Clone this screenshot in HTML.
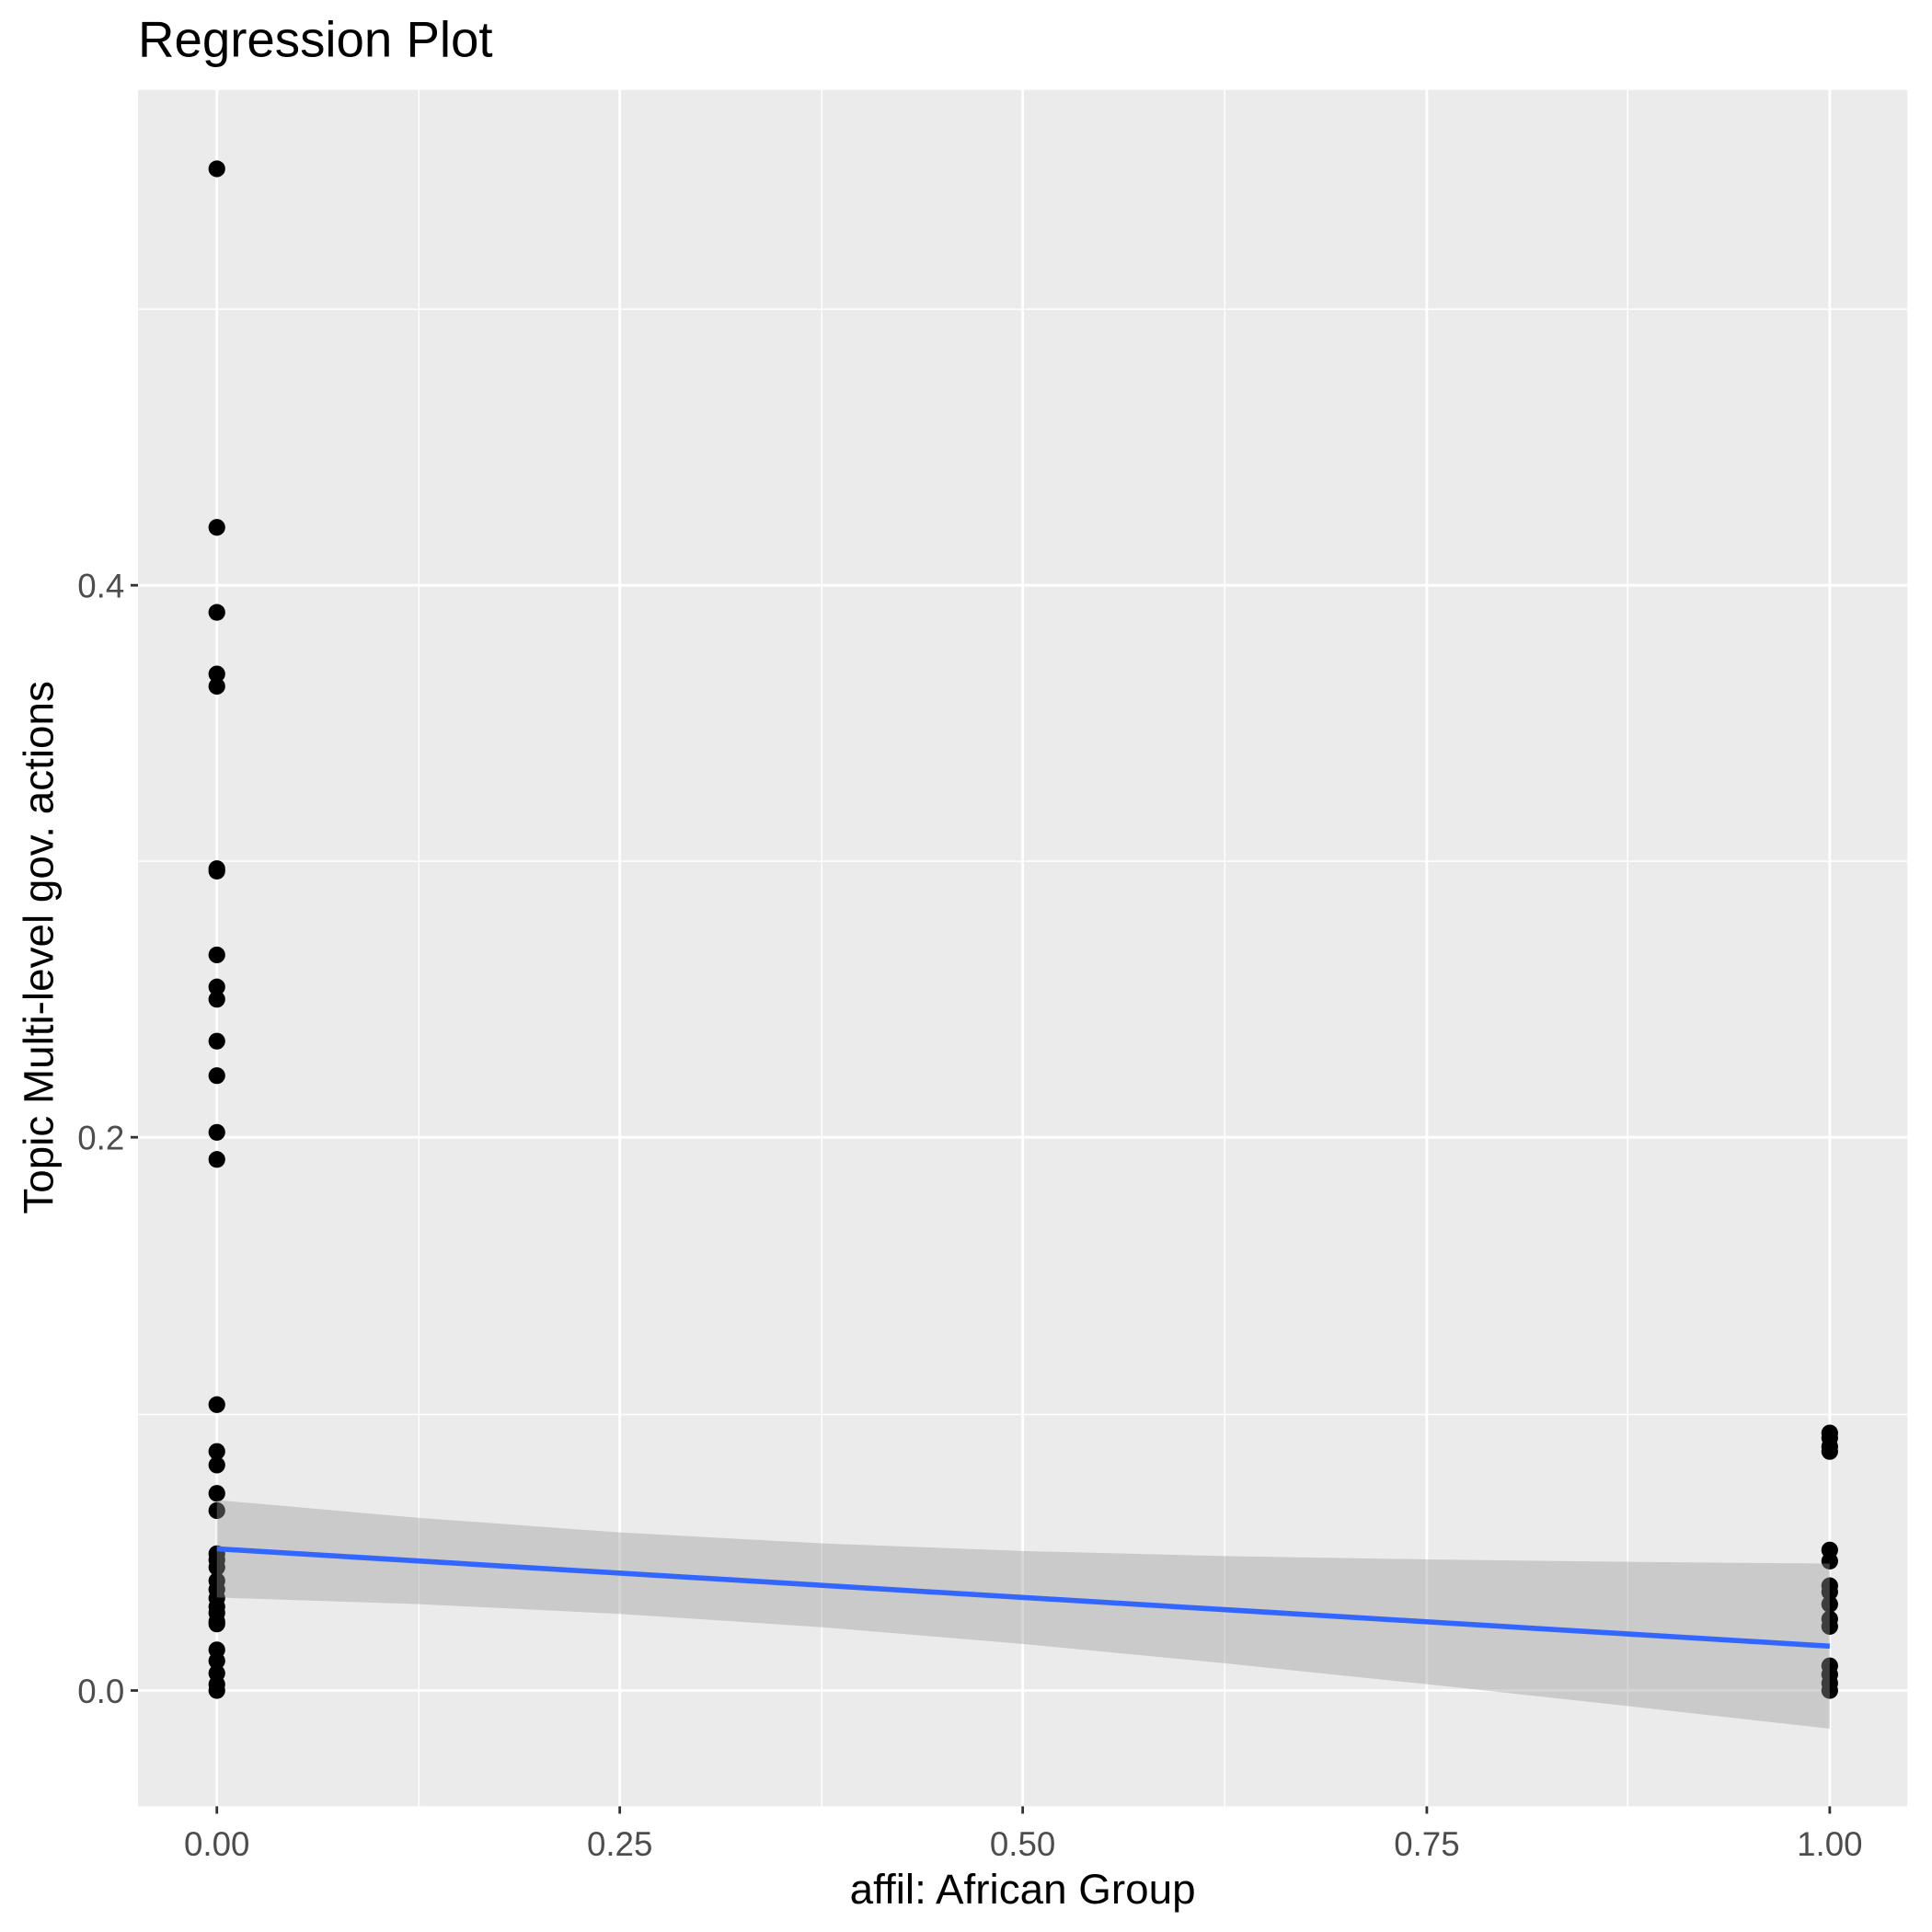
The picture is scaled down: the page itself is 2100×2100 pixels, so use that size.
<!DOCTYPE html>
<html><head><meta charset="utf-8"><style>html,body{margin:0;padding:0;background:#fff}svg{display:block}</style></head>
<body>
<svg width="2100" height="2100" viewBox="0 0 1568 1568" xmlns="http://www.w3.org/2000/svg" font-family="Liberation Sans, sans-serif">
<rect x="0" y="0" width="1568" height="1568" fill="#fff"/>
<rect x="112" y="73" width="1436" height="1393" fill="#ebebeb"/>
<g stroke="#fff" stroke-width="1.1">
<line x1="340" y1="73" x2="340" y2="1466"/><line x1="667" y1="73" x2="667" y2="1466"/>
<line x1="994" y1="73" x2="994" y2="1466"/><line x1="1321" y1="73" x2="1321" y2="1466"/>
<line x1="112" y1="251" x2="1548" y2="251"/><line x1="112" y1="699" x2="1548" y2="699"/><line x1="112" y1="1148" x2="1548" y2="1148"/>
</g>
<g stroke="#fff" stroke-width="2.1">
<line x1="176" y1="73" x2="176" y2="1466"/><line x1="503" y1="73" x2="503" y2="1466"/>
<line x1="830" y1="73" x2="830" y2="1466"/><line x1="1158" y1="73" x2="1158" y2="1466"/><line x1="1485" y1="73" x2="1485" y2="1466"/>
<line x1="112" y1="475" x2="1548" y2="475"/><line x1="112" y1="923" x2="1548" y2="923"/><line x1="112" y1="1372" x2="1548" y2="1372"/>
</g>
<g fill="#000">
<circle cx="176" cy="137" r="6.8"/><circle cx="176" cy="428" r="6.8"/><circle cx="176" cy="497" r="6.8"/>
<circle cx="176" cy="547" r="6.8"/><circle cx="176" cy="557" r="6.8"/><circle cx="176" cy="705" r="6.8"/>
<circle cx="176" cy="707" r="6.8"/><circle cx="176" cy="775" r="6.8"/><circle cx="176" cy="801" r="6.8"/>
<circle cx="176" cy="811" r="6.8"/><circle cx="176" cy="845" r="6.8"/><circle cx="176" cy="873" r="6.8"/>
<circle cx="176" cy="919" r="6.8"/><circle cx="176" cy="941" r="6.8"/>
<circle cx="176" cy="1140" r="6.8"/><circle cx="176" cy="1178" r="6.8"/><circle cx="176" cy="1189" r="6.8"/>
<circle cx="176" cy="1212" r="6.8"/><circle cx="176" cy="1226" r="6.8"/><circle cx="176" cy="1261" r="6.8"/>
<circle cx="176" cy="1266" r="6.8"/><circle cx="176" cy="1272" r="6.8"/><circle cx="176" cy="1283" r="6.8"/>
<circle cx="176" cy="1290" r="6.8"/><circle cx="176" cy="1297" r="6.8"/><circle cx="176" cy="1304" r="6.8"/>
<circle cx="176" cy="1309" r="6.8"/><circle cx="176" cy="1316" r="6.8"/><circle cx="176" cy="1318" r="6.8"/>
<circle cx="176" cy="1339" r="6.8"/><circle cx="176" cy="1348" r="6.8"/><circle cx="176" cy="1358" r="6.8"/>
<circle cx="176" cy="1367" r="6.8"/><circle cx="176" cy="1372" r="6.8"/>
<circle cx="1485" cy="1163" r="6.8"/><circle cx="1485" cy="1167" r="6.8"/><circle cx="1485" cy="1174" r="6.8"/>
<circle cx="1485" cy="1178" r="6.8"/><circle cx="1485" cy="1258" r="6.8"/><circle cx="1485" cy="1267" r="6.8"/>
<circle cx="1485" cy="1287" r="6.8"/><circle cx="1485" cy="1292" r="6.8"/><circle cx="1485" cy="1302" r="6.8"/>
<circle cx="1485" cy="1314" r="6.8"/><circle cx="1485" cy="1320" r="6.8"/><circle cx="1485" cy="1352" r="6.8"/>
<circle cx="1485" cy="1359" r="6.8"/><circle cx="1485" cy="1366" r="6.8"/><circle cx="1485" cy="1372" r="6.8"/>
</g>
<polygon fill="#999999" fill-opacity="0.4" points="176,1217.5 340,1231.9 503,1243.7 667,1252.6 830,1258.8 994,1262.9 1158,1265.6 1321,1267.6 1485,1269 1485,1403 1321,1384.6 1158,1366.9 994,1349.9 830,1334.2 667,1320.6 503,1309.8 340,1301.9 176,1296.5"/>
<line x1="176" y1="1257" x2="1485" y2="1336" stroke="#3366ff" stroke-width="4.2"/>
<g stroke="#333" stroke-width="2.1">
<line x1="106" y1="475" x2="112" y2="475"/><line x1="106" y1="923" x2="112" y2="923"/><line x1="106" y1="1372" x2="112" y2="1372"/>
<line x1="176" y1="1466" x2="176" y2="1472"/><line x1="503" y1="1466" x2="503" y2="1472"/><line x1="830" y1="1466" x2="830" y2="1472"/>
<line x1="1158" y1="1466" x2="1158" y2="1472"/><line x1="1485" y1="1466" x2="1485" y2="1472"/>
</g>
<g fill="#4d4d4d" font-size="27.4">
<text x="101" y="485" text-anchor="end">0.4</text>
<text x="101" y="933" text-anchor="end">0.2</text>
<text x="101" y="1382" text-anchor="end">0.0</text>
<text x="176" y="1506" text-anchor="middle">0.00</text>
<text x="503" y="1506" text-anchor="middle">0.25</text>
<text x="830" y="1506" text-anchor="middle">0.50</text>
<text x="1158" y="1506" text-anchor="middle">0.75</text>
<text x="1485" y="1506" text-anchor="middle">1.00</text>
</g>
<text x="830" y="1545" text-anchor="middle" font-size="34.2" fill="#000">affil: African Group</text>
<text transform="translate(43,769) rotate(-90)" text-anchor="middle" font-size="34.2" fill="#000">Topic Multi-level gov. actions</text>
<text x="112" y="46" font-size="40.8" fill="#000">Regression Plot</text>
</svg>
</body></html>
